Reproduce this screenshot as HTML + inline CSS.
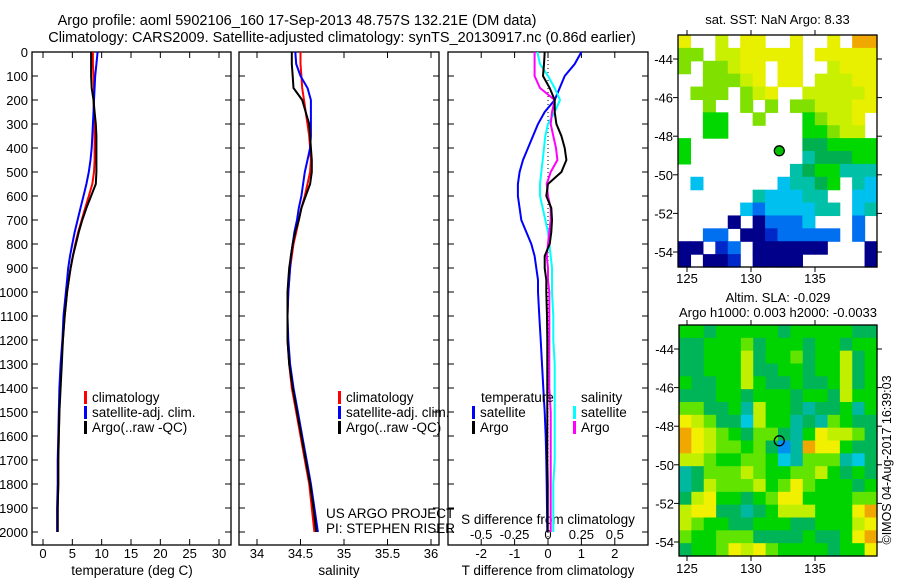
<!DOCTYPE html>
<html><head><meta charset="utf-8"><style>
html,body{margin:0;padding:0;background:#fff;}
svg text{font-family:"Liberation Sans",sans-serif;fill:#000;}
</style></head><body>
<svg id="fig" width="900" height="580" viewBox="0 0 900 580" font-size="13" xmlns="http://www.w3.org/2000/svg">
<text x="297" y="25" text-anchor="middle" font-size="14.5">Argo profile: aoml 5902106_160 17-Sep-2013 48.757S 132.21E (DM data)</text>
<text x="342" y="42" text-anchor="middle" font-size="14.5">Climatology: CARS2009. Satellite-adjusted climatology: synTS_20130917.nc (0.86d earlier)</text>
<g id="g1"></g>
<g id="g2"></g>
<g id="g3"></g>
<g id="g4"></g>
<g id="g5"></g>
<text transform="translate(891,460) rotate(-90)" text-anchor="middle" font-size="12.5">©IMOS 04-Aug-2017 16:39:03</text>
</svg>
<script>
// ---- data ----
const depths = [0,50,100,150,200,250,300,350,400,450,500,550,600,650,700,750,800,850,900,950,1000,1100,1200,1300,1400,1500,1600,1700,1800,1900,2000];
const tempClim = [8.5,8.5,8.6,8.7,8.6,8.7,8.8,8.8,8.8,8.8,8.7,8.4,7.8,7.2,6.6,6.0,5.5,5.1,4.7,4.4,4.1,3.7,3.4,3.1,2.9,2.8,2.7,2.6,2.6,2.5,2.5];
const tempSat = [9.3,9.1,8.9,8.8,8.7,8.6,8.5,8.4,8.3,8.1,7.8,7.4,6.9,6.4,5.9,5.4,5.0,4.6,4.3,4.1,3.9,3.5,3.3,3.0,2.8,2.7,2.6,2.5,2.5,2.4,2.4];
const tempArgo = [8.2,8.2,8.2,8.3,8.6,8.8,9.0,9.1,9.1,9.1,9.1,9.0,8.2,7.4,6.7,6.1,5.6,5.1,4.7,4.4,4.1,3.7,3.4,3.2,3.0,2.8,2.7,2.6,2.6,2.5,2.5];
const salClim = [34.50,34.50,34.51,34.52,34.54,34.56,34.58,34.60,34.61,34.62,34.61,34.58,34.55,34.51,34.48,34.45,34.42,34.40,34.38,34.37,34.36,34.35,34.35,34.37,34.40,34.45,34.50,34.55,34.60,34.63,34.66];
const salSat = [34.44,34.45,34.50,34.58,34.62,34.62,34.62,34.62,34.61,34.58,34.55,34.53,34.51,34.48,34.46,34.43,34.41,34.39,34.38,34.37,34.36,34.35,34.36,34.38,34.42,34.47,34.52,34.57,34.62,34.66,34.70];
const salArgo = [34.40,34.40,34.41,34.42,34.52,34.56,34.60,34.61,34.62,34.63,34.63,34.61,34.56,34.51,34.48,34.44,34.41,34.39,34.37,34.36,34.35,34.35,34.35,34.37,34.41,34.46,34.51,34.56,34.61,34.65,34.68];
const dTsat = [1.0,0.8,0.5,0.35,0.2,-0.1,-0.3,-0.45,-0.6,-0.75,-0.85,-0.9,-0.9,-0.85,-0.8,-0.65,-0.5,-0.4,-0.35,-0.3,-0.3,-0.26,-0.22,-0.18,-0.14,-0.1,-0.07,-0.05,-0.04,-0.03,-0.02];
const dTargo = [-0.1,-0.12,-0.15,0.05,0.2,0.2,0.25,0.4,0.5,0.55,0.4,0.0,-0.05,0.1,0.12,0.1,0.05,-0.1,-0.1,-0.05,-0.05,-0.03,-0.02,-0.02,-0.02,-0.02,-0.02,-0.02,-0.01,-0.01,-0.01];
const dSsat = [-0.08,-0.06,0.0,0.05,0.09,0.05,0.0,-0.02,-0.03,-0.04,-0.05,-0.06,-0.06,-0.04,-0.02,0.0,0.01,0.02,0.03,0.03,0.03,0.04,0.04,0.05,0.05,0.05,0.05,0.05,0.04,0.04,0.04];
const dSargo = [-0.1,-0.1,-0.1,-0.06,0.05,0.03,0.02,0.04,0.06,0.07,0.02,-0.01,0.0,0.02,0.02,0.01,0.0,-0.01,0.0,0.0,0.01,0.01,0.01,0.01,0.01,0.02,0.02,0.02,0.02,0.02,0.02];
const depthTicks = [0,100,200,300,400,500,600,700,800,900,1000,1100,1200,1300,1400,1500,1600,1700,1800,1900,2000];
const tempTicks = [0,5,10,15,20,25,30];
const salTicks = [34,34.5,35,35.5,36];
const dTTicks = [-2,-1,0,1,2];
const dSTicks = [-0.5,-0.25,0,0.25,0.5];
const lonTicks = [125,130,135];
const latTicks = [-44,-46,-48,-50,-52,-54];
// SST map grid: 16 cols x 18 rows, '.' = missing
const sstGrid = [
"9..8.99..9..9.aa",
"77.8899999.99999",
"7.77899.99..8999",
"..77789.99.88899",
".777.789..888889",
"..7..7.7.7788899",
"..66..7...67889.",
"..66......66788.",
"6.........556666",
"6.........455566",
".........4566444",
".3......34456.43",
"......433344..33",
".....32333344.34",
"....0.02223...2.",
"..22.00122222.2.",
"00.12.000000...0",
"0.001.0000.....0"];
// SLA map grid
const slaGrid = [
"6656666656666655",
"5566675666566566",
"5566685667566856",
"5566685566566856",
"6556686556556856",
"5556656665665866",
"7755648665455646",
"9875538664547655",
"a987657754698875",
"a987767524a99655",
"8876677634777435",
"4577787667786565",
"4587778679766656",
"5896656799666677",
"899554568886669a",
"8766556665566689",
"766777555565569a",
"5667989766665669"];
const argoLon = 132.21, argoLat = -48.757;
</script>
<script>
const NS="http://www.w3.org/2000/svg";
function mk(parent,tag,attrs,txt){const e=document.createElementNS(NS,tag);for(const k in attrs)e.setAttribute(k,attrs[k]);if(txt!==undefined)e.textContent=txt;parent.appendChild(e);return e;}
const yTop=52, yBot=545;
const yD = d => yTop + d*(532-yTop)/2000;
function panel(g,x0,x1,name){
  const r=mk(g,'rect',{x:x0,y:yTop,width:x1-x0,height:yBot-yTop,fill:'none',stroke:'#000','stroke-width':1.3});
  
  
  depthTicks.forEach(d=>{const y=yD(d);
    mk(g,'line',{x1:x0,x2:x0+6,y1:y,y2:y,stroke:'#000'});
    mk(g,'line',{x1:x1-6,x2:x1,y1:y,y2:y,stroke:'#000'});});
}
function xTicks(g,ticks,fx,labels,ly){
  ticks.forEach((t,i)=>{const x=fx(t);
    mk(g,'line',{x1:x,x2:x,y1:yBot,y2:yBot-6,stroke:'#000'});
    mk(g,'line',{x1:x,x2:x,y1:yTop,y2:yTop+6,stroke:'#000'});
    if(labels){const tx=mk(g,'text',{x:x,y:ly,'text-anchor':'middle'},labels[i]);
      
      }});
}
function line(g,vals,fx,color,name){
  const pts=depths.map((d,i)=>fx(vals[i]).toFixed(1)+','+yD(d).toFixed(1)).join(' ');
  const p=mk(g,'polyline',{points:pts,fill:'none',stroke:color,'stroke-width':2});
  
  
}
function legend(g,x,y,items){
  items.forEach((it,i)=>{
    mk(g,'rect',{x:x,y:y+i*15-11,width:3,height:13,fill:it[0]});
    const t=mk(g,'text',{x:x+8,y:y+i*15,'font-size':13.5},it[1]);
    
    });
}
// Panel 1
const g1=document.getElementById('g1');
const fT=t=>43+t*(219-43)/30;
panel(g1,32,231,'temperature');
depthTicks.forEach(d=>{const t=mk(g1,'text',{x:28,y:yD(d)+5,'text-anchor':'end'},String(d));
  
  });
xTicks(g1,tempTicks,fT,tempTicks.map(String),558);
mk(g1,'text',{x:132,y:575,'text-anchor':'middle','font-size':13.5},'temperature (deg C)');
line(g1,tempClim,fT,'#ff0000','temp-climatology-line');
line(g1,tempSat,fT,'#0000ff','temp-satellite-line');
line(g1,tempArgo,fT,'#000000','temp-argo-line');
legend(g1,84,402,[['#f00','climatology'],['#00f','satellite-adj. clim.'],['#000','Argo(..raw -QC)']]);
// Panel 2
const g2=document.getElementById('g2');
const fS=s=>257+(s-34)*87;
panel(g2,239,439,'salinity');
xTicks(g2,salTicks,fS,['34','34.5','35','35.5','36'],558);
mk(g2,'text',{x:339,y:575,'text-anchor':'middle','font-size':13.5},'salinity');
line(g2,salClim,fS,'#ff0000','sal-climatology-line');
line(g2,salSat,fS,'#0000ff','sal-satellite-line');
line(g2,salArgo,fS,'#000000','sal-argo-line');
legend(g2,338,402,[['#f00','climatology'],['#00f','satellite-adj. clim.'],['#000','Argo(..raw -QC)']]);
mk(g2,'text',{x:326,y:518,'font-size':13.5},'US ARGO PROJECT');
mk(g2,'text',{x:326,y:533,'font-size':13.5},'PI: STEPHEN RISER');
// Panel 3
const g3=document.getElementById('g3');
const fDT=v=>548+v*33.4, fDS=v=>548+v*133.6;
panel(g3,448,648,'difference');
xTicks(g3,dTTicks,fDT,['-2','-1','0','1','2'],558);
mk(g3,'line',{x1:548,x2:548,y1:yTop,y2:yBot,stroke:'#000','stroke-dasharray':'1,3'});
mk(g3,'text',{x:548,y:575,'text-anchor':'middle','font-size':13.5},'T difference from climatology');
mk(g3,'text',{x:548,y:524,'text-anchor':'middle','font-size':13.5},'S difference from climatology');
dSTicks.forEach((v,i)=>{const t=mk(g3,'text',{x:fDS(v),y:539,'text-anchor':'middle'},['-0.5','-0.25','0','0.25','0.5'][i]);
  
  });
line(g3,dTsat,fDT,'#0000ff','t-diff-satellite-line');
line(g3,dSsat,fDS,'#00ffff','s-diff-satellite-line');
line(g3,dSargo,fDS,'#ff00ff','s-diff-argo-line');
line(g3,dTargo,fDT,'#000000','t-diff-argo-line');
mk(g3,'text',{x:481,y:402,'font-size':13.5},'temperature');
mk(g3,'text',{x:581,y:402,'font-size':13.5},'salinity');
legend(g3,472,417,[['#00f','satellite'],['#000','Argo']]);
legend(g3,573,417,[['#0ff','satellite'],['#f0f','Argo']]);
// Maps
const pal={'0':'#00008b','1':'#0028c8','2':'#0070f0','3':'#00c0f0','4':'#00c0a8','5':'#00b050','6':'#00d800','7':'#80e000','8':'#c8f000','9':'#e8f000','a':'#f0a800'};
const palS={'2':'#0090f0','3':'#00c8e0','4':'#00b8a0','5':'#00b458','6':'#00d400','7':'#60e400','8':'#c0f000','9':'#f0f000','a':'#f0a800'};
function map(g,grid,pa,x0,x1,yT,yB,lat44y,lat54y,title,titleY,labelY){
  const fx=lon=>687+(lon-125)*12.8;
  const fy=lat=>lat44y+(-44-lat)*(lat54y-lat44y)/10;
  const rows=grid.length, cols=grid[0].length, cw=(x1-x0)/cols, ch=(yB-yT)/rows;
  grid.forEach((row,r)=>{for(let c=0;c<cols;c++){const k=row[c];if(k==='.'||!pa[k])continue;
    const cell=mk(g,'rect',{x:(x0+c*cw).toFixed(2),y:(yT+r*ch).toFixed(2),width:(cw+0.6).toFixed(2),height:(ch+0.6).toFixed(2),fill:pa[k]});
    
    }});
  mk(g,'rect',{x:x0,y:yT,width:x1-x0,height:yB-yT,fill:'none',stroke:'#000','stroke-width':1.3});
  lonTicks.forEach(l=>{const x=fx(l);mk(g,'line',{x1:x,x2:x,y1:yT,y2:yT-5,stroke:'#000'});mk(g,'line',{x1:x,x2:x,y1:yB,y2:yB+5,stroke:'#000'});
    const t=mk(g,'text',{x:x,y:labelY,'text-anchor':'middle'},String(l));
    
    });
  latTicks.forEach(l=>{const y=fy(l);mk(g,'line',{x1:x0,x2:x0-5,y1:y,y2:y,stroke:'#000'});mk(g,'line',{x1:x1,x2:x1+5,y1:y,y2:y,stroke:'#000'});
    const t=mk(g,'text',{x:x0-5,y:y+5,'text-anchor':'end'},String(l));
    
    });
  title.forEach((s,i)=>mk(g,'text',{x:(x0+x1)/2,y:titleY+i*15,'text-anchor':'middle','font-size':13},s));
  return {fx,fy};
}
const g4=document.getElementById('g4');
const m1=map(g4,sstGrid,pal,678,877,35,267,59,252,['sat. SST: NaN Argo: 8.33'],24,283);
const d1=mk(g4,'circle',{cx:m1.fx(argoLon),cy:m1.fy(argoLat),r:5,fill:'#00c000',stroke:'#000','stroke-width':1.3});


const g5=document.getElementById('g5');
const m2=map(g5,slaGrid,palS,679,877,325,556,349,542,['Altim. SLA: -0.029','Argo h1000: 0.003 h2000: -0.0033'],302,573);
const d2=mk(g5,'circle',{cx:m2.fx(argoLon),cy:m2.fy(argoLat),r:5,fill:'none',stroke:'#000','stroke-width':1.3});


</script>
</body></html>
